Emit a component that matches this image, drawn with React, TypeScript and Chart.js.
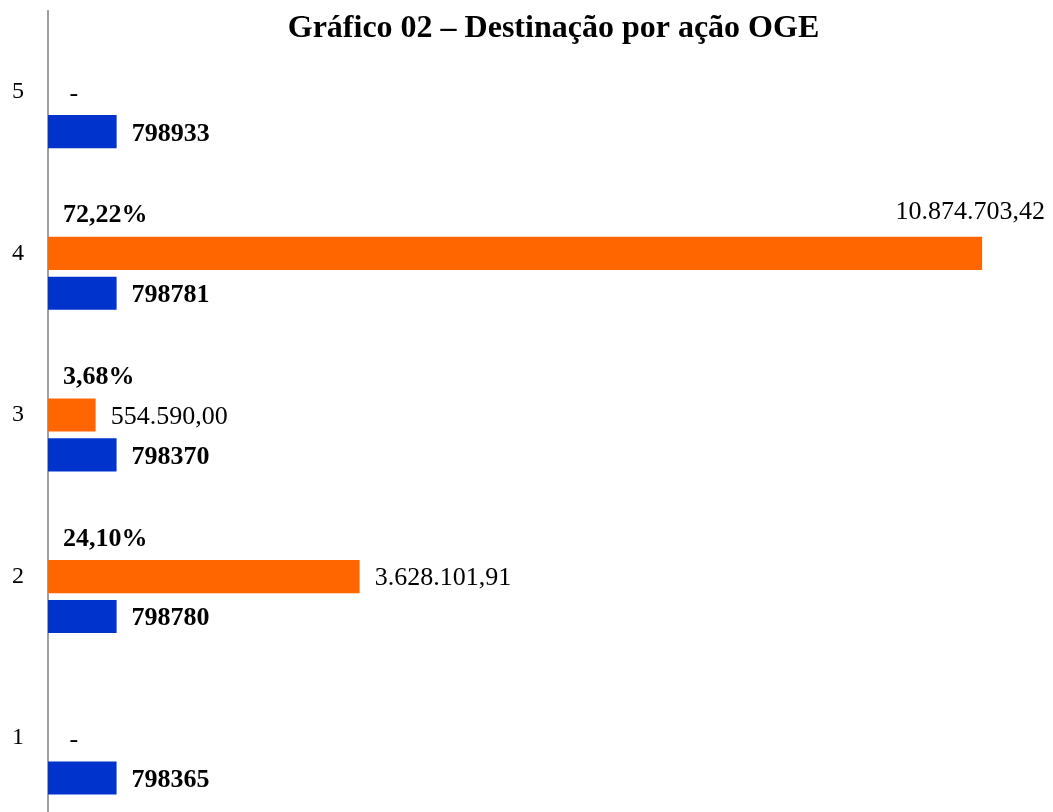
import React, { useEffect, useRef } from 'react';
import { Chart, registerables } from 'chart.js';

Chart.register(...registerables);

const categories = ['1', '2', '3', '4', '5'];
const actionCodes = [798365, 798780, 798370, 798781, 798933];
const amounts = [0, 3628101.91, 554590.0, 10874703.42, 0];
const shares = [0, 24.1, 3.68, 72.22, 0];
const chartTitle = 'Gráfico 02 – Destinação por ação OGE';
const xMax = 11700000;

const ORANGE = '#FF6600';
const BLUE = '#0033CC';
const FONT = "'Liberation Serif', 'Times New Roman', serif";

function fmtBR(v: number): string {
  if (v === 0) return ' -';
  const fixed = v.toFixed(2);
  const [intPart, dec] = fixed.split('.');
  const withDots = intPart.replace(/\B(?=(\d{3})+(?!\d))/g, '.');
  return withDots + ',' + dec;
}

function fmtPct(v: number): string {
  return v === 0 ? '' : v.toFixed(2).replace('.', ',') + '%';
}

const labelPlugin = {
  id: 'barLabels',
  afterDatasetsDraw(chart: any) {
    const ctx = chart.ctx as CanvasRenderingContext2D;
    const area = chart.chartArea;
    const pctMeta = chart.getDatasetMeta(0);
    const amtMeta = chart.getDatasetMeta(1);
    const codeMeta = chart.getDatasetMeta(2);
    const gap = 15;
    const size = 26;
    const off = size * 0.34;
    ctx.save();
    ctx.fillStyle = '#000';
    ctx.textAlign = 'left';
    ctx.textBaseline = 'alphabetic';

    ctx.font = `bold ${size}px ${FONT}`;
    codeMeta.data.forEach((el: any, i: number) => {
      ctx.fillText(String(actionCodes[i]), el.x + gap, el.y + off);
    });
    pctMeta.data.forEach((el: any, i: number) => {
      const t = fmtPct(shares[i]);
      if (!t) return;
      ctx.fillText(t, area.left + gap, el.y + off);
    });

    ctx.font = `${size}px ${FONT}`;
    amtMeta.data.forEach((el: any, i: number) => {
      const t = fmtBR(amounts[i]);
      const w = ctx.measureText(t).width;
      let x = el.x + gap;
      let y = el.y;
      if (x + w > area.right) {
        x = area.right - w - 8;
        y = pctMeta.data[i].y - 3;
      }
      ctx.fillText(t, x, y + off);
    });

    ctx.font = `bold 32px ${FONT}`;
    ctx.textAlign = 'center';
    ctx.fillText(chartTitle, (area.left + chart.width) / 2 + 3, 37);
    ctx.restore();
  },
};

export default function App() {
  const canvasRef = useRef<HTMLCanvasElement | null>(null);

  useEffect(() => {
    if (!canvasRef.current) return;
    const chart = new Chart(canvasRef.current, {
      type: 'bar',
      data: {
        labels: categories,
        datasets: [
          { label: 'Percentual', data: shares, backgroundColor: 'rgba(0,0,0,0)' },
          { label: 'Valor', data: amounts, backgroundColor: ORANGE },
          { label: 'Ação', data: actionCodes, backgroundColor: BLUE },
        ],
      },
      options: {
        indexAxis: 'y',
        responsive: false,
        animation: false,
        devicePixelRatio: 1,
        layout: { padding: { top: 11, bottom: 1, left: 0, right: 0 } },
        datasets: { bar: { categoryPercentage: 0.74, barPercentage: 0.83 } },
        plugins: {
          legend: { display: false },
          title: { display: false },
          tooltip: { enabled: false },
        },
        scales: {
          x: { display: false, min: 0, max: xMax },
          y: {
            reverse: true,
            grid: { display: false, drawTicks: false },
            border: { display: true, color: '#a0a0a0', width: 2 },
            ticks: { color: '#000', padding: 24, font: { family: FONT, size: 24 } },
            afterFit: (s: any) => {
              s.width = 48;
              s.paddingTop = 0;
              s.paddingBottom = 0;
            },
          },
        },
      } as any,
      plugins: [labelPlugin],
    });
    return () => chart.destroy();
  }, []);

  return (
    <div style={{ position: 'fixed', left: 0, top: 0, width: 1053, height: 820, background: '#fff' }}>
      <canvas ref={canvasRef} width={1053} height={820} style={{ display: 'block' }} />
    </div>
  );
}
